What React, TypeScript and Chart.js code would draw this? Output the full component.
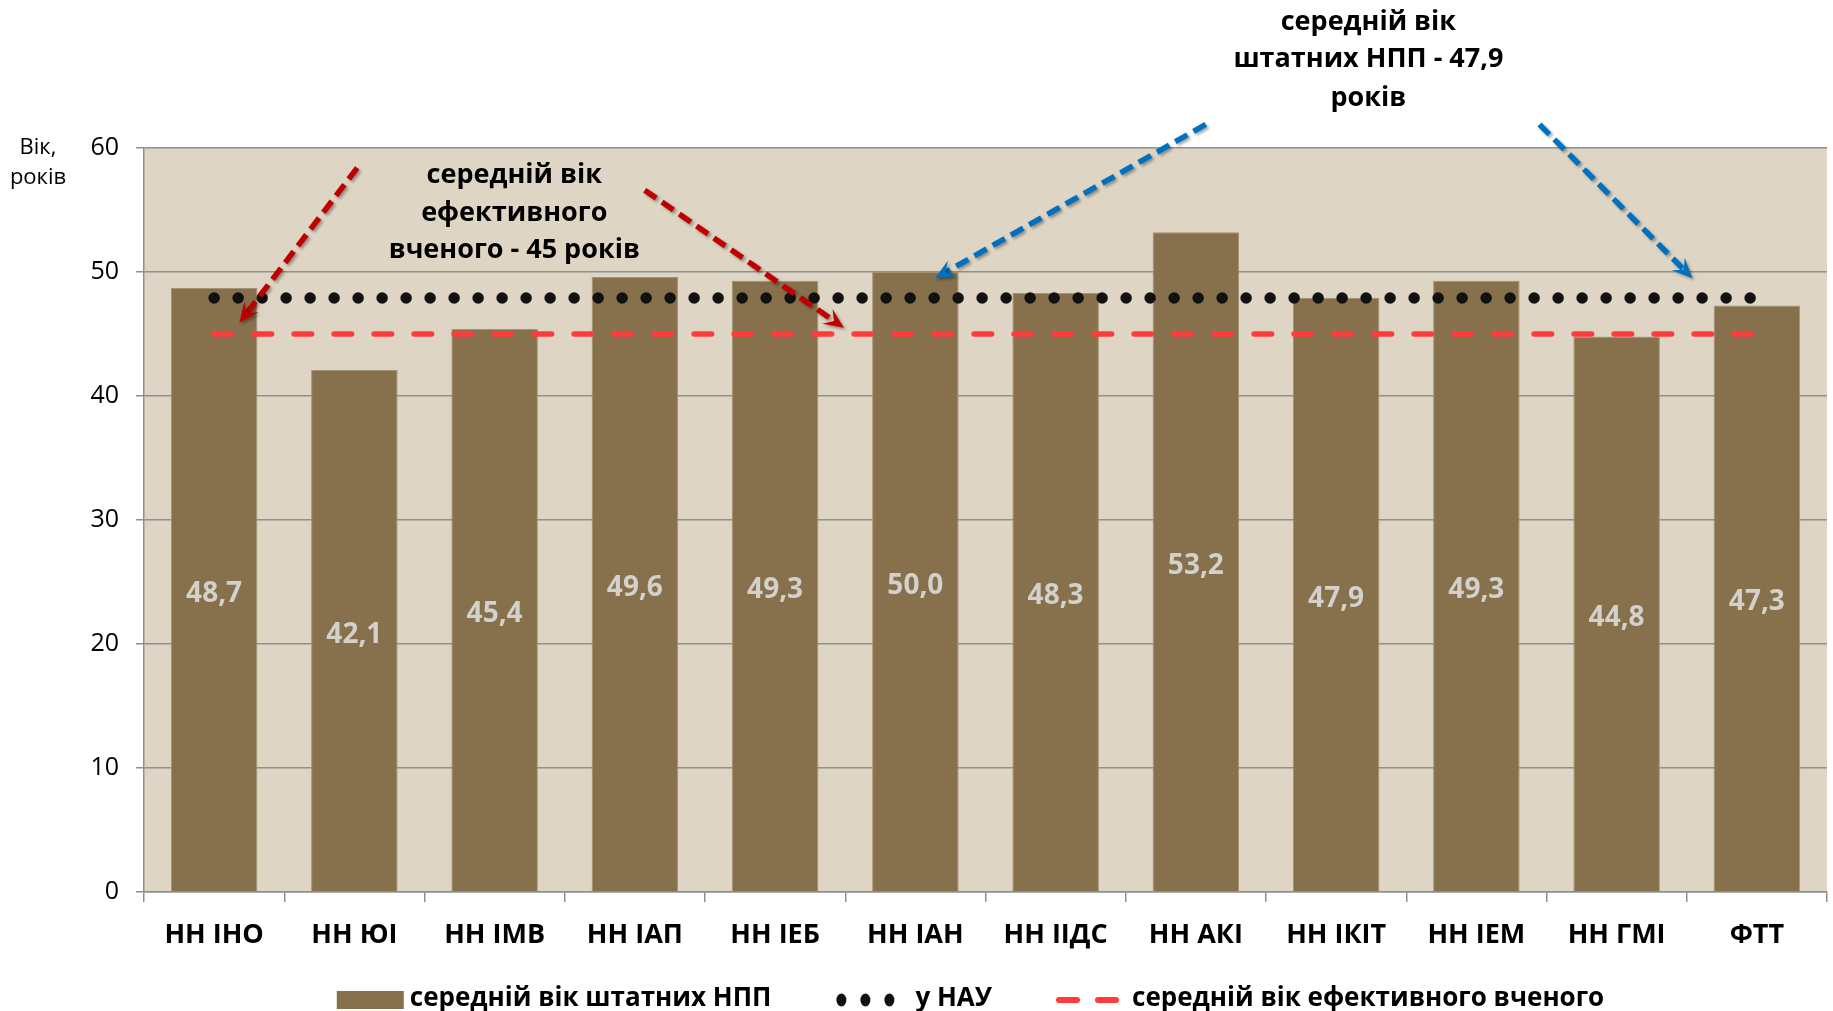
import React, { useEffect, useRef } from 'react';
import { Chart, registerables } from 'chart.js';

Chart.register(...registerables);

// ---------- data ----------
const categories = ['НН ІНО', 'НН ЮІ', 'НН ІМВ', 'НН ІАП', 'НН ІЕБ', 'НН ІАН', 'НН ІІДС', 'НН АКІ', 'НН ІКІТ', 'НН ІЕМ', 'НН ГМІ', 'ФТТ'];
const staffAge = [48.7, 42.1, 45.4, 49.6, 49.3, 50.0, 48.3, 53.2, 47.9, 49.3, 44.8, 47.3];
const nauAverage = [47.9, 47.9, 47.9, 47.9, 47.9, 47.9, 47.9, 47.9, 47.9, 47.9, 47.9, 47.9];
const effectiveScientist = [45, 45, 45, 45, 45, 45, 45, 45, 45, 45, 45, 45];
const seriesLabels = ['середній вік штатних НПП', 'у НАУ', 'середній вік ефективного вченого'];
const yTickValues = [0, 10, 20, 30, 40, 50, 60];
const axisTitleLines = ['Вік,', 'років'];

// annotation texts: lines with (category index, value) anchors
const noteEffectiveLines = ['середній вік', 'ефективного', 'вченого - 45 років'];
const noteEffectiveIndex = 2.14;
const noteEffectiveValues = [57.9, 54.8, 51.8];
const noteNauLines = ['середній вік', 'штатних НПП - 47,9', 'років'];
const noteNauIndex = 8.23;
const noteNauValues = [70.2, 67.2, 64.1];

// arrows: [startIndex, startValue, tipIndex, tipValue]
const redArrows = [
  [1.02, 58.4, 0.18, 45.9],
  [3.07, 56.6, 4.49, 45.5],
];
const blueArrows = [
  [7.07, 61.9, 5.14, 49.5],
  [9.45, 61.9, 10.54, 49.5],
];

// ---------- styles ----------
const FONT = "'Open Sans', 'DejaVu Sans', sans-serif";
const BAR_COLOR = '#86714C';
const BAR_BORDER = '#A39274';
const PLOT_BG = '#DED5C4';
const GRID = '#8F8F8F';
const RED = '#FF3B3B';
const DARK_RED = '#C00000';
const BLUE = '#0070C0';

function drawArrow(ctx: CanvasRenderingContext2D, x1: number, y1: number, x2: number, y2: number, color: string) {
  const ang = Math.atan2(y2 - y1, x2 - x1);
  const dx = Math.cos(ang), dy = Math.sin(ang);
  const px = -dy, py = dx;
  const headLen = 20, headW = 9;
  ctx.save();
  ctx.shadowColor = 'rgba(0,0,0,0.35)';
  ctx.shadowBlur = 3;
  ctx.shadowOffsetX = 2;
  ctx.shadowOffsetY = 2;
  ctx.strokeStyle = color;
  ctx.lineWidth = 5.5;
  ctx.setLineDash([14, 7]);
  ctx.beginPath();
  ctx.moveTo(x1, y1);
  ctx.lineTo(x2 - dx * headLen * 0.6, y2 - dy * headLen * 0.6);
  ctx.stroke();
  ctx.setLineDash([]);
  ctx.fillStyle = color;
  ctx.beginPath();
  ctx.moveTo(x2, y2);
  ctx.lineTo(x2 - dx * headLen + px * headW, y2 - dy * headLen + py * headW);
  ctx.lineTo(x2 - dx * headLen * 0.6, y2 - dy * headLen * 0.6);
  ctx.lineTo(x2 - dx * headLen - px * headW, y2 - dy * headLen - py * headW);
  ctx.closePath();
  ctx.fill();
  ctx.restore();
}

const plotBgPlugin = {
  id: 'plotBg',
  beforeDraw(chart: any) {
    const { ctx, chartArea } = chart;
    ctx.save();
    ctx.fillStyle = PLOT_BG;
    ctx.fillRect(chartArea.left, chartArea.top, chartArea.right - chartArea.left, chartArea.bottom - chartArea.top);
    ctx.restore();
  },
};

const valueLabelPlugin = {
  id: 'valueLabels',
  afterDatasetsDraw(chart: any) {
    const { ctx } = chart;
    const meta = chart.getDatasetMeta(0);
    ctx.save();
    ctx.font = `bold 28px ${FONT}`;
    ctx.fillStyle = '#D3D1CC';
    ctx.textAlign = 'center';
    ctx.textBaseline = 'middle';
    meta.data.forEach((el: any, i: number) => {
      const v = staffAge[i];
      ctx.fillText(v.toFixed(1).replace('.', ','), el.x, (el.y + el.base) / 2 + 4);
    });
    ctx.restore();
  },
};

// legend drawn as canvas text + markers, centred under the plot
const legendPlugin = {
  id: 'customLegend',
  afterDraw(chart: any) {
    const { ctx, chartArea } = chart;
    ctx.save();
    ctx.font = `bold 26px ${FONT}`;
    ctx.textBaseline = 'middle';
    ctx.textAlign = 'left';
    const markerW = [67, 62, 63];
    const markerGap = [6, 18, 13];
    const itemGap = 64;
    const widths = seriesLabels.map((t) => ctx.measureText(t).width);
    let total = 0;
    seriesLabels.forEach((_, i) => { total += markerW[i] + markerGap[i] + widths[i]; });
    total += itemGap * (seriesLabels.length - 1);
    const cx = (chartArea.left + chartArea.right) / 2 - 15;
    const cy = chartArea.bottom + 107;
    let x = cx - total / 2;
    seriesLabels.forEach((text, i) => {
      if (i === 0) {
        ctx.fillStyle = BAR_COLOR;
        ctx.fillRect(x, cy - 8, markerW[0], 18);
      } else if (i === 1) {
        ctx.fillStyle = '#111';
        [5, 29, 53].forEach((o) => {
          ctx.beginPath();
          ctx.ellipse(x + o + 1, cy + 1, 5, 6.5, 0, 0, Math.PI * 2);
          ctx.fill();
        });
      } else {
        ctx.strokeStyle = RED;
        ctx.lineWidth = 6;
        ctx.lineCap = 'round';
        ctx.beginPath();
        ctx.moveTo(x + 3, cy + 1); ctx.lineTo(x + 21, cy + 1);
        ctx.moveTo(x + 42, cy + 1); ctx.lineTo(x + 60, cy + 1);
        ctx.stroke();
      }
      x += markerW[i] + markerGap[i];
      ctx.fillStyle = '#000';
      ctx.fillText(text, x, cy);
      x += widths[i] + itemGap;
    });
    ctx.restore();
  },
};

const annotationPlugin = {
  id: 'notes',
  afterDraw(chart: any) {
    const { ctx } = chart;
    const xs = chart.scales.x;
    const ys = chart.scales.y;
    const xAt = (i: number) => xs.getPixelForValue(0) + i * (xs.getPixelForValue(1) - xs.getPixelForValue(0));
    const yAt = (v: number) => ys.getPixelForValue(v);

    // axis title
    ctx.save();
    ctx.font = `22px ${FONT}`;
    ctx.fillStyle = '#000';
    ctx.textAlign = 'center';
    ctx.textBaseline = 'middle';
    const top = yAt(60);
    ctx.fillText(axisTitleLines[0], 38, top);
    ctx.fillText(axisTitleLines[1], 38, top + 30);
    ctx.restore();

    redArrows.forEach((a) => drawArrow(ctx, xAt(a[0]), yAt(a[1]), xAt(a[2]), yAt(a[3]), DARK_RED));
    blueArrows.forEach((a) => drawArrow(ctx, xAt(a[0]), yAt(a[1]), xAt(a[2]), yAt(a[3]), BLUE));

    ctx.save();
    ctx.font = `bold 27px ${FONT}`;
    ctx.fillStyle = '#000';
    ctx.textAlign = 'center';
    ctx.textBaseline = 'middle';
    noteEffectiveLines.forEach((t, k) => ctx.fillText(t, xAt(noteEffectiveIndex), yAt(noteEffectiveValues[k]) + 1));
    noteNauLines.forEach((t, k) => ctx.fillText(t, xAt(noteNauIndex), yAt(noteNauValues[k]) + 1));
    ctx.restore();
  },
};

export default function App() {
  const ref = useRef<HTMLCanvasElement | null>(null);

  useEffect(() => {
    if (!ref.current) return;
    const chart = new Chart(ref.current, {
      type: 'bar',
      data: {
        labels: categories,
        datasets: [
          {
            type: 'bar',
            label: seriesLabels[0],
            data: staffAge,
            backgroundColor: BAR_COLOR,
            borderColor: BAR_BORDER,
            borderWidth: 1,
            categoryPercentage: 1,
            barPercentage: 0.617,
            order: 3,
          } as any,
          {
            type: 'line',
            label: seriesLabels[1],
            data: nauAverage,
            borderColor: '#111111',
            borderWidth: 11.5,
            borderDash: [0, 24],
            borderCapStyle: 'round',
            pointRadius: 0,
            pointHoverRadius: 0,
            fill: false,
            tension: 0,
            order: 1,
          } as any,
          {
            type: 'line',
            label: seriesLabels[2],
            data: effectiveScientist,
            borderColor: RED,
            borderWidth: 5.5,
            borderDash: [17.5, 22.5],
            borderCapStyle: 'round',
            pointRadius: 0,
            pointHoverRadius: 0,
            fill: false,
            tension: 0,
            order: 2,
          } as any,
        ],
      },
      options: {
        responsive: false,
        animation: false,
        devicePixelRatio: 1,
        events: [],
        layout: { padding: { left: 0, top: 148, right: 6, bottom: 0 } },
        scales: {
          x: {
            offset: true,
            grid: {
              display: true,
              drawOnChartArea: false,
              drawTicks: true,
              tickLength: 10,
              color: GRID,
              lineWidth: 1.5,
              offset: true,
            },
            border: { display: true, color: GRID, width: 1.5 },
            ticks: {
              color: '#000',
              padding: 17,
              maxRotation: 0,
              autoSkip: false,
              font: { family: FONT, size: 27, weight: 'bold' },
            },
            afterFit: (scale: any) => { scale.height = 119; },
          },
          y: {
            min: 0,
            max: 60,
            afterBuildTicks: (scale: any) => { scale.ticks = yTickValues.map((v) => ({ value: v })); },
            grid: {
              color: GRID,
              lineWidth: 1.5,
              drawTicks: true,
              tickLength: 8,
            },
            border: { display: true, color: GRID, width: 1.5 },
            ticks: {
              color: '#000',
              padding: 17,
              font: { family: FONT, size: 25 },
            },
            afterFit: (scale: any) => { scale.width = 144; },
          },
        },
        plugins: {
          tooltip: { enabled: false },
          legend: { display: false },
        },
      } as any,
      plugins: [plotBgPlugin, valueLabelPlugin, annotationPlugin, legendPlugin],
    });
    return () => chart.destroy();
  }, []);

  return (
    <div style={{ position: 'fixed', left: 0, top: 0, width: 1833, height: 1011, overflow: 'hidden', background: '#fff' }}>
      <canvas ref={ref} width={1833} height={1011} style={{ display: 'block', width: 1833, height: 1011 }} />
    </div>
  );
}
